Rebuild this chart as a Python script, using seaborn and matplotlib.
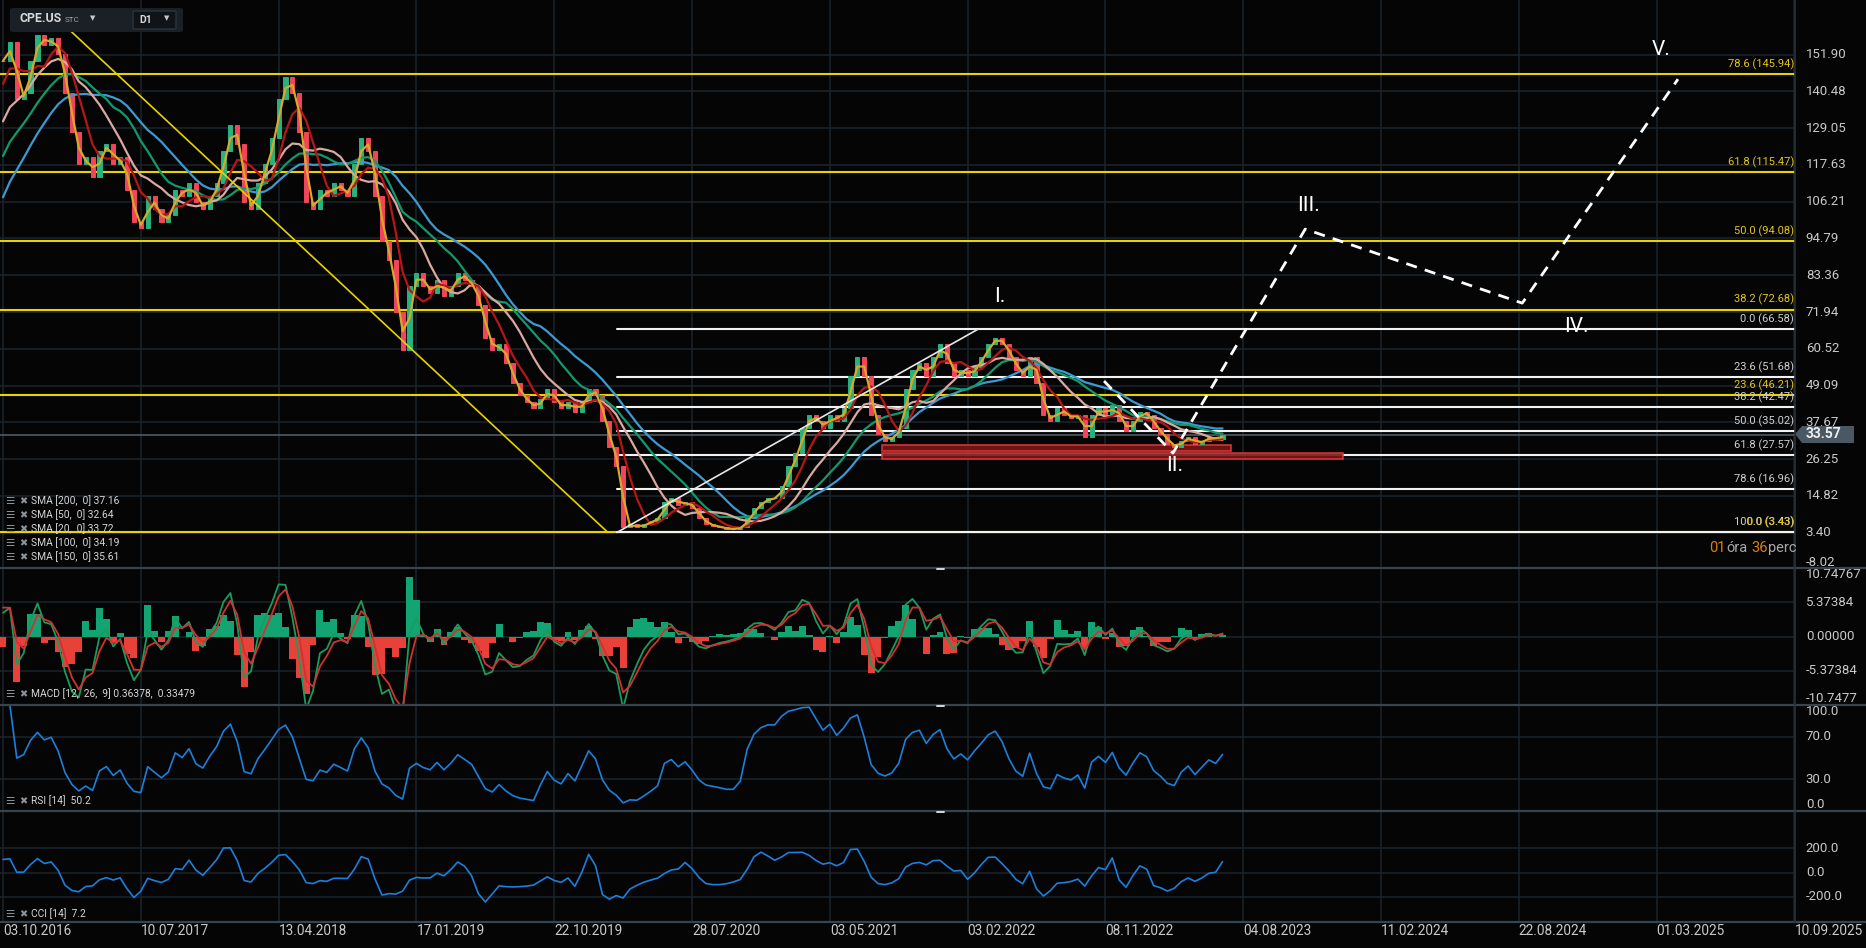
import numpy as np
import pandas as pd
import seaborn as sns
import matplotlib.pyplot as plt
from matplotlib.patches import Rectangle, FancyBboxPatch, Polygon
from matplotlib.lines import Line2D

W, H = 1866, 948

# closes, one value per ~2 weeks (20 values per date tick)
# warmup = prices before the first visible bar, only used to seed the averages
warmup = [58, 60, 64, 66, 72, 84, 90, 94, 98, 104,
          108, 112, 118, 120, 122, 126, 132, 138, 144, 150]
closes = [
    150, 156, 138, 140, 150, 158, 155, 157, 152, 140,
    128, 118, 120, 114, 122, 124, 118, 120, 110, 100,
    98, 108, 104, 100, 102, 110, 108, 112, 106, 104,
    108, 112, 122, 130, 124, 106, 104, 112, 118, 126,
    138, 145, 140, 128, 106, 104, 110, 108, 112, 110,
    108, 118, 126, 122, 108, 94, 88, 72, 60, 80,
    84, 80, 78, 82, 77, 80, 84, 82, 80, 74,
    64, 60, 62, 56, 50, 46, 44, 42, 45, 48,
    44, 42, 44, 41, 44, 48, 46, 38, 30, 24,
    5, 6, 5, 6, 7, 8, 13, 14, 12, 13,
    11, 8, 6, 5.5, 5, 4.5, 4.5, 5, 8, 11,
    13, 14, 14, 18, 24, 28, 36, 40, 38, 36,
    40, 38, 42, 52, 58, 52, 40, 34, 32, 33,
    36, 48, 54, 56, 52, 58, 62, 56, 52, 54,
    52, 55, 58, 62, 64, 62, 58, 54, 52, 58,
    50, 40, 38, 42, 40, 39, 40, 33, 40, 42,
    40, 43, 38, 35, 38, 41, 40, 36, 34, 31,
    30, 32, 33, 31, 32, 33, 32.5, 33.57,
]
last_price = 33.57

date_labels = ["03.10.2016", "10.07.2017", "13.04.2018", "17.01.2019", "22.10.2019",
               "28.07.2020", "03.05.2021", "03.02.2022", "08.11.2022", "04.08.2023",
               "11.02.2024", "22.08.2024", "01.03.2025", "10.09.2025"]
BARS_PER_TICK = 20

price_ticks = [151.90, 140.48, 129.05, 117.63, 106.21, 94.79, 83.36, 71.94,
               60.52, 49.09, 37.67, 26.25, 14.82, 3.40, -8.02]
macd_ticks = [10.74767, 5.37384, 0.0, -5.37384, -10.7477]
macd_tick_text = ["10.74767", "5.37384", "0.00000", "-5.37384", "-10.7477"]
rsi_ticks = [100.0, 70.0, 30.0, 0.0]
cci_ticks = [200.0, 0.0, -200.0]

# fibonacci retracements drawn on the chart
yellow_fib_pct = [78.6, 61.8, 50.0, 38.2, 23.6, 0.0]
yellow_fib_val = [145.94, 115.47, 94.08, 72.68, 46.21, 3.43]
white_fib_pct = [0.0, 23.6, 38.2, 50.0, 61.8, 78.6, 100.0]
white_fib_val = [66.58, 51.68, 42.47, 35.02, 27.57, 16.96, 3.43]
white_fib_from = 89.1

# drawn trend lines and elliott wave projection (bar index, price)
yellow_trend_x, yellow_trend_y = [7.8, 87.8], [163.3, 3.43]
white_trend_x, white_trend_y = [89.1, 141.5], [3.43, 66.58]
wave_x = [159.8, 169.8, 189.0, 220.5, 243.1]
wave_y = [50.5, 28.1, 97.7, 74.7, 144.3]
wave_names = ["I.", "II.", "III.", "IV.", "V."]
wave_lab_x = [144.7, 170.1, 189.5, 228.3, 240.6]
wave_lab_y = [76.9, 24.1, 104.9, 67.3, 153.4]

# support zones: x from, x to, price low, price high
zone_x0 = [127.6, 127.6]
zone_x1 = [178.2, 194.5]
zone_lo = [28.6, 26.2]
zone_hi = [30.5, 28.0]

sma_days = [200, 50, 20, 100, 150]
sma_last = ["37.16", "32.64", "33.72", "34.19", "35.61"]
sma_colors = {200: "#3d9ad1", 150: "#11996b", 100: "#d9a8a0", 50: "#b51616", 20: "#d6a92b"}

# ---------------------------------------------------------------------------
BG = "#050505"
GRID = "#1b242b"
SEP = "#38434c"
TXT = "#c9c9c9"
UP, DOWN = "#27b27e", "#f2455a"
NARROW = ["Liberation Sans Narrow", "Roboto", "DejaVu Sans"]

sns.set_theme(style="dark", rc={"axes.facecolor": BG, "figure.facecolor": BG})
plt.rcParams["font.family"] = ["Roboto", "DejaVu Sans"]

s = pd.Series(warmup + closes, dtype=float)
n0 = len(warmup)
x = np.arange(len(closes))
c = np.array(closes, dtype=float)
o = np.array([warmup[-1]] + closes[:-1], dtype=float)

# indicator lengths in days -> bars of ~10 trading days
sma = {d: s.rolling(d // 10).mean().iloc[n0:].to_numpy() for d in sma_days}
macd_full = s.ewm(alpha=0.85, adjust=False).mean() - s.ewm(alpha=0.45, adjust=False).mean()
signal_full = macd_full.ewm(alpha=0.6, adjust=False).mean()
macd = macd_full.iloc[n0:].to_numpy()
signal = signal_full.iloc[n0:].to_numpy()
hist = macd - signal
delta = s.diff()
gain = delta.clip(lower=0).ewm(alpha=0.2, adjust=False).mean()
loss = (-delta.clip(upper=0)).ewm(alpha=0.2, adjust=False).mean()
rsi = (100 - 100 / (1 + gain / loss)).iloc[n0:].to_numpy()
mean_n = s.rolling(10).mean()
mad_n = s.rolling(10).apply(lambda v: np.abs(v - v.mean()).mean(), raw=True)
cci = ((s - mean_n) / (0.015 * mad_n)).iloc[n0:].to_numpy()

fig = plt.figure(figsize=(W / 100, H / 100), dpi=100)
PLOT_R = 1795


def panel(top, bottom):
    return fig.add_axes([0, 1 - bottom / H, PLOT_R / W, (bottom - top) / H])


ax = panel(0, 568)
ax_macd = panel(568, 705)
ax_rsi = panel(705, 811)
ax_cci = panel(811, 922)

xlim = (-3 / 6.89, (PLOT_R - 3) / 6.89)
ax.set_ylim(151.90 - (568 - 54.7) / 3.218, 151.90 + 54.7 / 3.218)
ax_macd.set_ylim(-10.75, 10.75)
ax_rsi.set_ylim(0, 100)
ax_cci.set_ylim(-408, 508)

tick_pos = [k * BARS_PER_TICK for k in range(len(date_labels))]
for a, yt in [(ax, price_ticks), (ax_macd, macd_ticks[1:-1]), (ax_rsi, rsi_ticks[1:-1]), (ax_cci, cci_ticks)]:
    a.set_facecolor(BG)
    a.set_xlim(*xlim)
    for sp in a.spines.values():
        sp.set_visible(False)
    for t in tick_pos:
        a.axvline(t, color=GRID, lw=1.1, zorder=0)
    for v in yt:
        a.axhline(v, color=GRID, lw=1.1, zorder=0)


def right_labels(a, ticks, texts, edge=False):
    for k, (v, lab) in enumerate(zip(ticks, texts)):
        va = "center"
        if edge and k == 0:
            va = "top"
        elif k == len(ticks) - 1 and (edge or a is ax):
            va = "bottom"
        a.text(1.006, v, lab, transform=a.get_yaxis_transform(), va=va, ha="left",
               color=TXT, fontsize=9.5, family=NARROW, clip_on=False)


right_labels(ax, price_ticks, [f"{v:.2f}" for v in price_ticks])
right_labels(ax_macd, macd_ticks, macd_tick_text, edge=True)
right_labels(ax_rsi, rsi_ticks, [f"{v:.1f}" for v in rsi_ticks], edge=True)
right_labels(ax_cci, cci_ticks, [f"{v:.1f}" for v in cci_ticks])

# fibonacci levels
for p, v in zip(yellow_fib_pct, yellow_fib_val):
    ax.axhline(v, color="#e8d200", lw=1.5, zorder=2)
    ax.annotate(f"{p:.1f} ({v:.2f})", (0.9995, v), xycoords=ax.get_yaxis_transform(),
                xytext=(0, 3), textcoords="offset points", ha="right", va="bottom",
                color="#e3c51c", fontsize=8, family=NARROW, zorder=6)
for p, v in zip(white_fib_pct, white_fib_val):
    ax.plot([white_fib_from, xlim[1]], [v, v], color="#f2f2f2", lw=1.5, zorder=2)
    ax.annotate(f"{p:.1f} ({v:.2f})", (0.9995, v), xycoords=ax.get_yaxis_transform(),
                xytext=(0, 3), textcoords="offset points", ha="right", va="bottom",
                color="#d0d0d0", fontsize=8, family=NARROW, zorder=5)
ax.axhline(last_price, color="#55616b", lw=1.1, zorder=2)

# support zones
for x0, x1, lo, hi in zip(zone_x0, zone_x1, zone_lo, zone_hi):
    ax.add_patch(Rectangle((x0, lo), x1 - x0, hi - lo, facecolor="#7a1515", edgecolor="#e03a3a",
                           lw=1.2, alpha=0.9, zorder=3))

# candles
up = c >= o
cols = np.where(up, UP, DOWN)
ax.bar(x, c - o, bottom=o, width=0.6, color=cols, edgecolor=cols, linewidth=0.7, zorder=4)

for d in [200, 150, 100, 50, 20]:
    sns.lineplot(x=x, y=sma[d], ax=ax, color=sma_colors[d], linewidth=1.6, zorder=5)

ax.plot(yellow_trend_x, yellow_trend_y, color="#e8d200", lw=1.2, zorder=6)
ax.plot(white_trend_x, white_trend_y, color="#e8e8e8", lw=1.2, zorder=6)
ax.plot(wave_x, wave_y, color="white", lw=2.0, dashes=(4, 3), zorder=7)
for name, lx, ly in zip(wave_names, wave_lab_x, wave_lab_y):
    ax.text(lx, ly, name, color="white", fontsize=15, ha="center", va="center", zorder=7)

# MACD
hcols = np.where(hist >= 0, "#12a573", "#e8413a")
ax_macd.bar(x, hist * 2.0, width=1.0, color=hcols, linewidth=0, zorder=2)
sns.lineplot(x=x, y=macd, ax=ax_macd, color="#1b9b5c", linewidth=1.3, zorder=3)
sns.lineplot(x=x, y=signal, ax=ax_macd, color="#d43030", linewidth=1.3, zorder=3)

sns.lineplot(x=x, y=rsi, ax=ax_rsi, color="#1c7fdc", linewidth=1.2, zorder=3)
sns.lineplot(x=x, y=cci, ax=ax_cci, color="#1c7fdc", linewidth=1.2, zorder=3)

for a in [ax, ax_macd, ax_rsi, ax_cci]:
    a.set_xlabel("")
    a.set_ylabel("")
    a.set_xticks([])
    a.set_yticks([])

for t, lab in zip(tick_pos, date_labels):
    ax_cci.text(t, -9 / 111, lab, transform=ax_cci.get_xaxis_transform(), ha="left", va="center",
                color=TXT, fontsize=9.8, family=NARROW, clip_on=False)


def fx(px):
    return px / W


def fy(py):
    return 1 - py / H


# panel separators and right border
for yy in [568, 705, 811, 922]:
    fig.add_artist(Line2D([0, 1], [fy(yy), fy(yy)], color=SEP, lw=1.6))
fig.add_artist(Line2D([fx(PLOT_R), fx(PLOT_R)], [fy(0), fy(922)], color="#27313a", lw=1.2))
for yy in [569, 706, 812]:
    fig.add_artist(Line2D([fx(937), fx(944)], [fy(yy), fy(yy)], color="#d8d8d8", lw=1.4))

# legends in panels
ICON = "#8c939a"
legend_rows = [f"SMA [{d},  0] {v}" for d, v in zip(sma_days, sma_last)]
legend_y = [501 + 14 * k for k in range(len(legend_rows))]
legend_rows += ["MACD [12,  26,  9] 0.36378,  0.33479", "RSI [14]  50.2", "CCI [14]  7.2"]
legend_y += [694, 801, 914]
for yy, lab in zip(legend_y, legend_rows):
    fig.text(fx(5), fy(yy), "\u2630", color=ICON, fontsize=7.5, va="center", family=["DejaVu Sans"])
    fig.text(fx(19), fy(yy), "\u2716", color=ICON, fontsize=7, va="center", family=["DejaVu Sans"])
    fig.text(fx(31), fy(yy), lab, color="#d6d6d6", fontsize=7.4, va="center", family=NARROW)

# symbol header
fig.add_artist(FancyBboxPatch((fx(10), fy(32)), fx(173), 24 / H, boxstyle="round,pad=0,rounding_size=0.002",
                              facecolor="#1a2025", edgecolor="none", transform=fig.transFigure))
fig.add_artist(FancyBboxPatch((fx(133), fy(29)), fx(43), 18 / H, boxstyle="round,pad=0,rounding_size=0.001",
                              facecolor="#101418", edgecolor="#2c353c", lw=1, transform=fig.transFigure))
fig.text(fx(20), fy(19), "CPE.US", color="#d8d8d8", fontsize=8.8, fontweight="bold", va="center")
fig.text(fx(65), fy(20), "STC", color="#9aa3aa", fontsize=5.8, va="center")
fig.text(fx(90), fy(18), "\u25bc", color="#c8c8c8", fontsize=5, va="center", family=["DejaVu Sans"])
fig.text(fx(139), fy(20), "D1", color="#d8d8d8", fontsize=7.5, fontweight="bold", va="center")
fig.text(fx(164), fy(18), "\u25bc", color="#c8c8c8", fontsize=5, va="center", family=["DejaVu Sans"])

# last price tag
tag_y = 434
fig.add_artist(Polygon([(fx(1795), fy(tag_y)), (fx(1802), fy(426)), (fx(1854), fy(426)),
                        (fx(1854), fy(443)), (fx(1802), fy(443))], closed=True,
                       facecolor="#4a5863", edgecolor="none", transform=fig.transFigure))
fig.text(fx(1806), fy(tag_y), f"{last_price:.2f}", color="#eeeeee", fontsize=10, fontweight="bold",
         va="center", family=NARROW)

# candle countdown
for px, word, col in [(1709, "01", "#d9820a"), (1726, "óra", "#a8a8a8"),
                      (1751, "36", "#d9820a"), (1768, "perc", "#a8a8a8")]:
    fig.text(fx(px), fy(548), word, color=col, fontsize=10.5, va="center", family=NARROW)

fig.savefig("out.png", dpi=100, facecolor=BG)
